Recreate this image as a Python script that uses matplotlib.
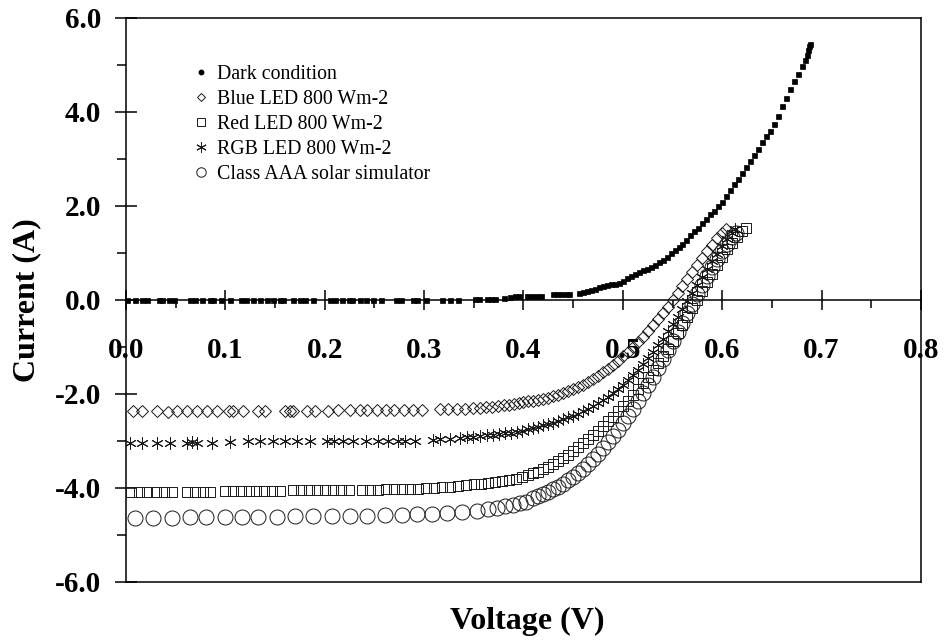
import matplotlib
matplotlib.use("Agg")
import matplotlib.pyplot as plt
from matplotlib.lines import Line2D
from matplotlib.ticker import MultipleLocator, FixedLocator

plt.rcParams['font.family'] = ['Liberation Serif', 'DejaVu Serif']
plt.rcParams['axes.unicode_minus'] = False

# --- I-V data (voltage in V, current in A) ---
dark_v = [0.001, 0.009, 0.016, 0.021, 0.033, 0.036, 0.043, 0.048, 0.064, 0.069,
          0.076, 0.085, 0.088, 0.096, 0.105, 0.116, 0.121, 0.128, 0.135, 0.142,
          0.148, 0.155, 0.158, 0.168, 0.175, 0.180, 0.188, 0.205, 0.210, 0.217,
          0.224, 0.227, 0.235, 0.242, 0.249, 0.257, 0.272, 0.277, 0.289, 0.293,
          0.302, 0.318, 0.326, 0.334, 0.351, 0.355, 0.363, 0.367, 0.371, 0.380,
          0.386, 0.391, 0.395, 0.404, 0.409, 0.414, 0.418, 0.430, 0.434, 0.438,
          0.443, 0.446, 0.456,
          0.460, 0.464, 0.468, 0.472, 0.476, 0.480, 0.484, 0.488, 0.492, 0.496,
          0.500, 0.504, 0.508, 0.512, 0.516, 0.520, 0.524, 0.528, 0.532, 0.536,
          0.540, 0.544, 0.548, 0.552, 0.556, 0.560, 0.564, 0.568, 0.572, 0.576,
          0.580, 0.584, 0.588, 0.592, 0.596, 0.600, 0.604, 0.608, 0.612, 0.616,
          0.620, 0.624, 0.628, 0.632, 0.636, 0.640, 0.644, 0.648, 0.652, 0.656,
          0.660, 0.664, 0.668, 0.672, 0.676, 0.680, 0.683, 0.685, 0.686, 0.687,
          0.688]
dark_i = [0.00, 0.00, 0.00, 0.00, 0.00, 0.00, 0.00, 0.00, 0.00, 0.00,
          0.00, 0.00, 0.00, 0.00, 0.00, 0.00, 0.00, 0.00, 0.00, 0.00,
          0.00, 0.00, 0.00, 0.00, 0.00, 0.00, 0.00, 0.00, 0.00, 0.00,
          0.00, 0.00, 0.00, 0.00, 0.00, 0.00, 0.00, 0.00, 0.00, 0.00,
          0.01, 0.01, 0.01, 0.01, 0.02, 0.02, 0.02, 0.03, 0.03, 0.05,
          0.07, 0.08, 0.08, 0.08, 0.09, 0.09, 0.09, 0.12, 0.12, 0.12,
          0.12, 0.13, 0.14,
          0.16, 0.19, 0.21, 0.24, 0.27, 0.29, 0.31, 0.33, 0.35, 0.37,
          0.41, 0.46, 0.50, 0.55, 0.59, 0.63, 0.66, 0.70, 0.75, 0.81,
          0.86, 0.92, 0.99, 1.06, 1.13, 1.20, 1.28, 1.38, 1.47, 1.54,
          1.64, 1.73, 1.82, 1.90, 1.99, 2.09, 2.21, 2.34, 2.47, 2.58,
          2.70, 2.82, 2.95, 3.08, 3.22, 3.36, 3.48, 3.60, 3.74, 3.92,
          4.12, 4.30, 4.48, 4.65, 4.81, 4.97, 5.10, 5.22, 5.32, 5.40,
          5.45]

blue_v = [0.007, 0.016, 0.031, 0.042, 0.051, 0.061, 0.071, 0.082, 0.092, 0.104,
          0.108, 0.118, 0.133, 0.140, 0.160, 0.165, 0.168, 0.182, 0.190, 0.203,
          0.213, 0.225, 0.235, 0.243, 0.253, 0.262, 0.270, 0.280, 0.289, 0.298,
          0.316, 0.324, 0.333, 0.341, 0.349, 0.356,
          0.362, 0.368, 0.374, 0.380, 0.385, 0.390, 0.395, 0.400,
          0.405, 0.410, 0.415, 0.420, 0.425, 0.430, 0.435, 0.440, 0.445, 0.450,
          0.455, 0.460, 0.465, 0.470, 0.475, 0.480, 0.485, 0.490, 0.495, 0.500,
          0.505, 0.510, 0.515, 0.520, 0.525, 0.530, 0.535, 0.540, 0.545, 0.550,
          0.555, 0.560, 0.565, 0.570, 0.575, 0.580, 0.585, 0.590, 0.595, 0.600,
          0.604]
blue_i = [-2.37, -2.37, -2.37, -2.38, -2.37, -2.37, -2.37, -2.37, -2.37, -2.36,
          -2.37, -2.37, -2.37, -2.36, -2.36, -2.37, -2.36, -2.36, -2.36, -2.36,
          -2.35, -2.35, -2.35, -2.34, -2.34, -2.34, -2.34, -2.34, -2.34, -2.34,
          -2.33, -2.33, -2.32, -2.31, -2.30, -2.29,
          -2.28, -2.27, -2.26, -2.24, -2.23, -2.21, -2.20, -2.18,
          -2.16, -2.15, -2.12, -2.10, -2.08, -2.05, -2.02, -1.98, -1.94, -1.90,
          -1.85, -1.80, -1.74, -1.68, -1.61, -1.54, -1.46, -1.38, -1.29, -1.20,
          -1.10, -1.00, -0.89, -0.78, -0.66, -0.54, -0.41, -0.28, -0.14, 0.00,
          0.15, 0.30, 0.45, 0.60, 0.75, 0.90, 1.04, 1.18, 1.31, 1.42,
          1.50]

red_v = [0.005, 0.013, 0.021, 0.030, 0.038, 0.046, 0.061, 0.069, 0.077, 0.085,
         0.100, 0.108, 0.116, 0.124, 0.131, 0.139, 0.147, 0.155,
         0.168, 0.176, 0.184, 0.192, 0.200, 0.208, 0.216, 0.224,
         0.238, 0.246, 0.254, 0.262, 0.270, 0.278, 0.286, 0.294,
         0.302, 0.310, 0.318, 0.326, 0.334, 0.342, 0.350, 0.357,
         0.364, 0.371, 0.378, 0.385, 0.392, 0.399,
         0.405, 0.410, 0.415, 0.420, 0.425, 0.430, 0.435, 0.440, 0.445, 0.450,
         0.455, 0.460, 0.465, 0.470, 0.475, 0.480, 0.485, 0.490, 0.495, 0.500,
         0.505, 0.510, 0.515, 0.520, 0.525, 0.530, 0.535, 0.540, 0.545, 0.550,
         0.555, 0.560, 0.565, 0.570, 0.575, 0.580, 0.585, 0.590, 0.595, 0.600,
         0.605, 0.610, 0.615, 0.620, 0.624]
red_i = [-4.09, -4.09, -4.09, -4.09, -4.09, -4.09, -4.08, -4.08, -4.08, -4.08,
         -4.07, -4.07, -4.07, -4.06, -4.06, -4.06, -4.06, -4.06,
         -4.05, -4.05, -4.05, -4.05, -4.05, -4.05, -4.05, -4.05,
         -4.04, -4.04, -4.04, -4.03, -4.03, -4.03, -4.02, -4.02,
         -4.00, -3.99, -3.98, -3.97, -3.96, -3.94, -3.92, -3.91,
         -3.89, -3.87, -3.85, -3.83, -3.80, -3.77,
         -3.73, -3.69, -3.65, -3.60, -3.55, -3.49, -3.43, -3.36, -3.29, -3.21,
         -3.13, -3.05, -2.96, -2.87, -2.78, -2.68, -2.58, -2.48, -2.37, -2.26,
         -2.14, -2.02, -1.90, -1.77, -1.64, -1.50, -1.35, -1.20, -1.04, -0.88,
         -0.71, -0.54, -0.36, -0.18, 0.00, 0.20, 0.38, 0.56, 0.74, 0.92,
         1.08, 1.22, 1.35, 1.46, 1.53]

rgb_v = [0.004, 0.016, 0.031, 0.044, 0.061, 0.066, 0.071, 0.087, 0.105, 0.123,
         0.135, 0.148, 0.160, 0.172, 0.185, 0.202, 0.209, 0.218, 0.228, 0.242,
         0.254, 0.264, 0.274, 0.281, 0.291,
         0.309, 0.316, 0.326, 0.336, 0.343, 0.349, 0.356, 0.363, 0.369, 0.375,
         0.381, 0.387, 0.393, 0.399,
         0.405, 0.410, 0.415, 0.420, 0.425, 0.430, 0.435, 0.440, 0.445, 0.450,
         0.455, 0.460, 0.465, 0.470, 0.475, 0.480, 0.485, 0.490, 0.495, 0.500,
         0.505, 0.510, 0.515, 0.520, 0.525, 0.530, 0.535, 0.540, 0.545, 0.550,
         0.555, 0.560, 0.565, 0.570, 0.575, 0.580, 0.585, 0.590, 0.595, 0.600,
         0.605, 0.610, 0.613]
rgb_i = [-3.04, -3.04, -3.04, -3.04, -3.04, -3.03, -3.04, -3.04, -3.03, -3.01,
         -3.01, -3.01, -3.01, -3.01, -3.01, -3.01, -3.01, -3.00, -3.00, -3.00,
         -3.00, -3.00, -2.99, -2.99, -2.99,
         -2.97, -2.96, -2.95, -2.93, -2.92, -2.91, -2.89, -2.88, -2.87, -2.85,
         -2.84, -2.82, -2.80, -2.78,
         -2.75, -2.73, -2.70, -2.67, -2.64, -2.61, -2.58, -2.54, -2.50, -2.46,
         -2.42, -2.37, -2.32, -2.26, -2.20, -2.13, -2.06, -1.98, -1.89, -1.80,
         -1.70, -1.59, -1.48, -1.36, -1.23, -1.10, -0.96, -0.82, -0.67, -0.52,
         -0.36, -0.20, -0.03, 0.14, 0.31, 0.48, 0.65, 0.82, 0.98, 1.14,
         1.29, 1.42, 1.50]

sim_v = [0.009, 0.027, 0.046, 0.064, 0.081, 0.100, 0.117, 0.133, 0.152, 0.170,
         0.188, 0.207, 0.225, 0.243, 0.261, 0.278, 0.293, 0.308, 0.323, 0.338,
         0.353, 0.364, 0.373, 0.381, 0.389, 0.396, 0.403,
         0.410, 0.415, 0.420, 0.425, 0.430, 0.435, 0.440, 0.445, 0.450, 0.455,
         0.460, 0.465, 0.470, 0.475, 0.480, 0.485, 0.490, 0.495, 0.500,
         0.505, 0.510, 0.515, 0.520, 0.525, 0.530, 0.535, 0.540, 0.545, 0.550,
         0.555, 0.560, 0.565, 0.570, 0.575, 0.580, 0.585, 0.590, 0.595, 0.600,
         0.605, 0.610, 0.614]
sim_i = [-4.63, -4.63, -4.63, -4.62, -4.62, -4.62, -4.61, -4.61, -4.61, -4.60,
         -4.60, -4.60, -4.59, -4.59, -4.58, -4.57, -4.56, -4.55, -4.53, -4.51,
         -4.48, -4.45, -4.42, -4.39, -4.36, -4.33, -4.29,
         -4.22, -4.18, -4.13, -4.08, -4.03, -3.97, -3.91, -3.84, -3.76, -3.68,
         -3.59, -3.49, -3.39, -3.28, -3.16, -3.03, -2.90, -2.76, -2.62,
         -2.47, -2.31, -2.15, -1.98, -1.81, -1.63, -1.45, -1.26, -1.07, -0.88,
         -0.68, -0.48, -0.28, -0.08, 0.12, 0.32, 0.51, 0.70, 0.88, 1.05,
         1.20, 1.33, 1.42]

labels = ['Dark condition', 'Blue LED 800 Wm-2', 'Red LED 800 Wm-2',
          'RGB LED 800 Wm-2', 'Class AAA solar simulator']
x_ticks = [0.0, 0.1, 0.2, 0.3, 0.4, 0.5, 0.6, 0.7, 0.8]
y_ticks = [-6.0, -4.0, -2.0, 0.0, 2.0, 4.0, 6.0]

fig = plt.figure(figsize=(9.48, 6.44), dpi=100)
ax = fig.add_axes([0.1329, 0.0963, 0.8386, 0.8758])

ink = '#1a1a1a'
star = (6, 2, 0)

ax.plot(sim_v, sim_i, 'o', ms=10.8, mfc='none', mec=ink, mew=0.7, zorder=3)
ax.plot(red_v, red_i, 's', ms=7.6, mfc='none', mec=ink, mew=0.7, zorder=3)
ax.plot(rgb_v, rgb_i, marker=star, ls='none', ms=9, mec=ink, mew=0.7, zorder=3)
ax.plot(blue_v, blue_i, 'D', ms=6.0, mfc='none', mec=ink, mew=0.7, zorder=3)
ax.plot(dark_v, dark_i, 's', ms=3.6, mfc='black', mec='black', mew=0.5, zorder=4)

ax.set_xlim(0, 0.8)
ax.set_ylim(-6, 6)

# x axis runs along I = 0, box closed at the bottom
for s in ax.spines.values():
    s.set_linewidth(1.1)
ax.spines['bottom'].set_position(('data', 0))
ax.axhline(-6, color='black', lw=1.1, clip_on=False, zorder=2.5)

ax.xaxis.set_major_locator(FixedLocator(x_ticks))
ax.set_xticklabels([f'{t:.1f}' for t in x_ticks])
ax.xaxis.set_minor_locator(MultipleLocator(0.05))
ax.yaxis.set_major_locator(FixedLocator(y_ticks))
ax.set_yticklabels([f'{t:.1f}' for t in y_ticks])
ax.yaxis.set_minor_locator(MultipleLocator(1.0))

ax.tick_params(axis='x', which='major', direction='inout', length=14, width=1.1,
               pad=20, labelsize=21)
ax.tick_params(axis='x', which='minor', direction='out', length=6, width=1.1)
ax.tick_params(axis='y', which='major', direction='inout', length=16, width=1.1,
               pad=10, labelsize=21)
ax.tick_params(axis='y', which='minor', direction='out', length=6.5, width=1.1)
for lab in ax.get_xticklabels() + ax.get_yticklabels():
    lab.set_fontweight('bold')

fig.text(0.556, 0.035, 'Voltage (V)', ha='center', va='center',
         fontsize=23, fontweight='bold')
fig.text(0.028, 0.534, 'Current (A)', ha='center', va='center',
         rotation=90, fontsize=23, fontweight='bold')

handles = [
    Line2D([], [], ls='none', marker='o', ms=3.2, mfc='black', mec='black'),
    Line2D([], [], ls='none', marker='D', ms=4.4, mfc='none', mec=ink, mew=0.7),
    Line2D([], [], ls='none', marker='s', ms=6.2, mfc='none', mec=ink, mew=0.7),
    Line2D([], [], ls='none', marker=star, ms=7.5, mec=ink, mew=0.7),
    Line2D([], [], ls='none', marker='o', ms=6.8, mfc='none', mec=ink, mew=0.7),
]
ax.legend(handles, labels, loc='upper left', bbox_to_anchor=(0.082, 0.916),
          frameon=False, fontsize=14.3, handlelength=1.0, handletextpad=0.3,
          labelspacing=0.3, borderpad=0, borderaxespad=0)

fig.savefig('out.png', dpi=100)
